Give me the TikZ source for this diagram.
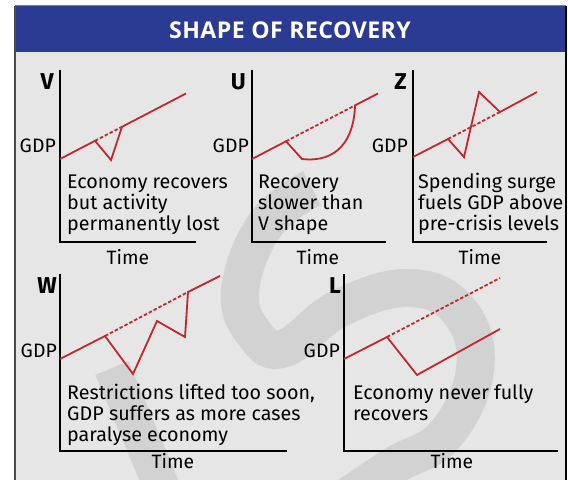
\documentclass[tikz,border=0pt]{standalone}
\usepackage{fontspec}
\setmainfont{Fira Sans}
\newfontfamily\titlefont[LetterSpace=2]{Open Sans}
\definecolor{hdr}{HTML}{2B3A93}
\definecolor{myred}{HTML}{C4262E}
\definecolor{bg}{HTML}{E6E6E6}
\definecolor{wm}{HTML}{D2D2D2}
\begin{document}
\begin{tikzpicture}[x=1bp,y=-1bp,
  axis/.style={black,line width=1.3bp},
  curve/.style={draw=myred,line width=1.8bp,line join=miter},
  trend/.style={draw=myred,line width=1.8bp,dash pattern=on 3.5bp off 2bp},
  lab/.style={font=\fontsize{23}{23}\selectfont\bfseries,anchor=north east,inner sep=0pt},
  gdp/.style={font=\fontsize{19.5}{19.5}\selectfont,anchor=east,inner sep=0pt},
  timelab/.style={font=\fontsize{19.4}{19.4}\selectfont,anchor=base,inner sep=0pt},
  desc/.style={font=\fontsize{19.8}{21}\selectfont,align=left,anchor=base west,inner sep=0pt},
  wmark/.style={draw=wm,line width=38bp}]
\useasboundingbox (0,0) rectangle (568,480);
\fill[white] (0,0) rectangle (568,480);
\fill[bg] (15,6) rectangle (566,480);
% watermark
\begin{scope}
\clip (15,52) rectangle (566,480);
\draw[wmark] plot[smooth,tension=0.7] coordinates {(312,188) (265,225) (240,292) (256,336) (285,348) (340,308) (410,288) (460,312) (475,370) (445,435) (395,465) (350,495)};
\draw[wmark,line width=36bp] (112,368) -- (165,495);
\end{scope}
% header
\fill[hdr] (15,6) rectangle (566,52);
\draw[gray,line width=1bp] (15,6) -- (566,6);
\draw[black!70,line width=2bp] (15,6) -- (15,480);
\draw[black,line width=1.5bp] (566,6) -- (566,480);
\node[font=\titlefont\fontsize{23.2}{23.2}\selectfont\bfseries,text=white,inner sep=0pt] (title) at (290,30) {SHAPE OF RECOVERY};

% ---- V panel
\coordinate (vT) at (60,70); \coordinate (vO) at (60,242); \coordinate (vR) at (196,242);
\draw[axis] (vT) -- (vO) -- (vR);
\coordinate (v1) at (60,159); \coordinate (v2) at (95,140.8); \coordinate (v3) at (111,160);
\coordinate (v4) at (122,126.8); \coordinate (v5) at (186,93.5);
\draw[trend] (v2) -- (v4);
\draw[curve] (v1) -- (v2) -- (v3) -- (v4) -- (v5);
\node[lab] (vl) at (54,73) {V};
\node[gdp] (vg) at (56,146) {GDP};
\node[desc] (vd) at (67,230) {Economy recovers\\but activity\\permanently lost};
\node[timelab] (vt) at (128,264) {Time};

% ---- U panel
\coordinate (uT) at (252,70); \coordinate (uO) at (252,242); \coordinate (uR) at (386,242);
\draw[axis] (uT) -- (uO) -- (uR);
\coordinate (u1) at (252,159); \coordinate (u2) at (286,141.3); \coordinate (u3) at (302,159);
\coordinate (u4) at (355,105.4); \coordinate (u5) at (378,93.5);
\draw[trend] (u2) -- (u4);
\draw[curve] (u1) -- (u2) -- (u3) .. controls (337,163) and (354,140) .. (u4) -- (u5);
\node[lab] (ul) at (246,73) {U};
\node[gdp] (ug) at (249,146) {GDP};
\node[desc] (ud) at (258,230) {Recovery\\slower than\\V shape};
\node[timelab] (ut) at (318,264) {Time};

% ---- Z panel
\coordinate (zT) at (413,70); \coordinate (zO) at (413,242); \coordinate (zR) at (547,242);
\draw[axis] (zT) -- (zO) -- (zR);
\coordinate (z1) at (413,157); \coordinate (z2) at (448,139); \coordinate (z3) at (464,157);
\coordinate (z4) at (479,92); \coordinate (z5) at (500,112); \coordinate (z6) at (537,92);
\draw[trend] (z2) -- (z5);
\draw[curve] (z1) -- (z2) -- (z3) -- (z4) -- (z5) -- (z6);
\node[lab] (zl) at (407,73) {Z};
\node[gdp] (zg) at (408,146) {GDP};
\node[desc] (zd) at (418,230) {Spending surge\\fuels GDP above\\pre-crisis levels};
\node[timelab] (zt) at (480,264) {Time};

% ---- W panel
\coordinate (wT) at (60,274); \coordinate (wO) at (60,451); \coordinate (wR) at (287,451);
\draw[axis] (wT) -- (wO) -- (wR);
\coordinate (w1) at (60,359); \coordinate (w2) at (105,336); \coordinate (w3) at (133,374);
\coordinate (w4) at (157,321); \coordinate (w5) at (185,337); \coordinate (w6) at (188,292);
\coordinate (w7) at (220,276);
\draw[trend] (w2) -- (w6);
\draw[curve] (w1) -- (w2) -- (w3) -- (w4) -- (w5) -- (w6) -- (w7);
\node[lab] (wl) at (57,277) {W};
\node[gdp] (wg) at (57,351) {GDP};
\node[desc] (wd) at (67,441) {Restrictions lifted too soon,\\GDP suffers as more cases\\paralyse economy};
\node[timelab] (wt) at (173,468) {Time};

% ---- L panel
\coordinate (lT) at (344,274); \coordinate (lO) at (344,451); \coordinate (lR) at (558,451);
\draw[axis] (lT) -- (lO) -- (lR);
\coordinate (l1) at (344,359); \coordinate (l2) at (387,337); \coordinate (l3) at (417,375);
\coordinate (l4) at (500,329); \coordinate (l5) at (500,278);
\draw[trend] (l2) -- (l5);
\draw[curve] (l1) -- (l2) -- (l3) -- (l4);
\node[lab] (ll) at (341,277) {L};
\node[gdp] (lg) at (340,351) {GDP};
\node[desc] (ld) at (353,420) {Economy never fully\\recovers};
\node[timelab] (lt) at (452,468) {Time};
\end{tikzpicture}
\end{document}
